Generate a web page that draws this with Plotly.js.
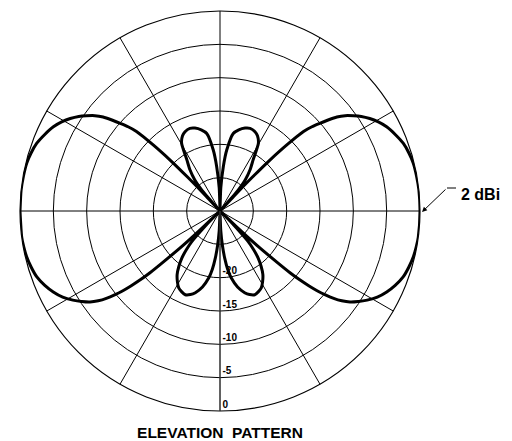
<!DOCTYPE html>
<html>
<head>
<meta charset="utf-8">
<script src="https://cdn.plot.ly/plotly-3.0.1.min.js"></script>
<style>html,body{margin:0;padding:0;background:#fff;}#chart{width:512px;height:441px;}</style>
</head>
<body>
<div id="chart"></div>
<script>
// Elevation angle above horizon (deg) and relative gain (dB), upper hemisphere
var elevUpper = [0, 6, 10, 13.9, 17, 20.3, 23.5, 26.8, 29.5, 31.7, 33.8, 35.5, 37.3, 38.8, 40, 41.2, 42.5, 43.6, 44.7, 45.6, 46.3, 47, 47.5,
                 48.5, 51, 54, 57, 60.5, 63.5, 66.2, 70, 73.2, 77, 80.3, 83.7, 85.7, 88, 90];
var gainUpper = [0, 0, -0.05, -0.13, -0.35, -0.7, -1.3, -2.0, -2.8, -3.6, -4.5, -5.4, -6.4, -7.5, -8.7, -10, -11.3, -12.7, -15.9, -19.3, -23, -27, -30,
                 -26.5, -24, -22.3, -20.9, -18.3, -17.4, -17.0, -16.8, -17.0, -17.5, -18.2, -20.8, -23.3, -26.5, -30];
// Elevation angle below horizon (deg, magnitude) and relative gain (dB), lower hemisphere
var elevLower = [0, 7.5, 10.5, 13.4, 16.5, 19.8, 23, 25.9, 28.7, 31.2, 33.2, 35, 36.4, 37.6, 38.5, 39.3, 40.1, 40.8, 41.4, 41.9, 42.9, 43.6, 44.2,
                 44.8, 45.8, 47.3, 49, 51, 53.5, 56, 59, 61.8, 64.5, 67.5, 70.5, 73.2, 77, 80.4, 82.5, 84.3, 86, 87.7, 90];
var gainLower = [0, 0, -0.08, -0.2, -0.45, -0.8, -1.45, -2.2, -3.1, -4.2, -5.2, -6.2, -7.3, -8.6, -9.8, -11, -12.6, -14.2, -16, -18.3, -22.2, -26, -30,
                 -28.5, -26.5, -23.8, -22.3, -20.9, -19.6, -18.5, -17.6, -16.9, -16.6, -16.4, -16.7, -17.2, -18.3, -19.8, -21.2, -22.9, -24.8, -27, -30];
var radialTicks = [-25, -20, -15, -10, -5, 0];
var radialTickText = ['', '-20', '-15', '-10', '-5', '0'];
var peakLabel = '2 dBi';
var chartTitle = 'ELEVATION&nbsp;&nbsp;PATTERN';

var theta = [], r = [];
for (var i = 0; i < elevUpper.length; i++) { theta.push(elevUpper[i]); r.push(gainUpper[i]); }
for (var i = elevUpper.length - 1; i >= 0; i--) { theta.push(180 - elevUpper[i]); r.push(gainUpper[i]); }
for (var i = 0; i < elevLower.length; i++) { theta.push(180 + elevLower[i]); r.push(gainLower[i]); }
for (var i = elevLower.length - 1; i >= 0; i--) { theta.push(360 - elevLower[i]); r.push(gainLower[i]); }

var trace = {
  type: 'scatterpolar', mode: 'lines', r: r, theta: theta,
  line: {color: '#000', width: 3, shape: 'spline', smoothing: 0.6},
  hoverinfo: 'none', showlegend: false
};

// tick labels sit just above their rings: pad each label with an empty second line
var tickTextShown = radialTickText.map(function (t) { return t === '' ? '' : t + '<br>&nbsp;'; });

var W = 512, H = 441, cx = 220, cy = 211, R = 200;
var layout = {
  width: W, height: H,
  margin: {l: 0, r: 0, t: 0, b: 0},
  paper_bgcolor: '#fff',
  font: {family: 'Liberation Sans, Arial, sans-serif', color: '#000'},
  showlegend: false,
  polar: {
    domain: {x: [(cx - R) / W, (cx + R) / W], y: [(H - cy - R) / H, (H - cy + R) / H]},
    bgcolor: '#fff',
    angularaxis: {
      rotation: 0, direction: 'counterclockwise', dtick: 30,
      showticklabels: false, ticks: '',
      showgrid: true, gridcolor: '#000', gridwidth: 1,
      showline: true, linecolor: '#000', linewidth: 1.2
    },
    radialaxis: {
      range: [-30, 0], angle: -90, tickangle: -90,
      tickvals: radialTicks, ticktext: tickTextShown,
      tickfont: {size: 10, family: 'Liberation Sans, Arial, sans-serif', weight: 'bold', color: '#000'},
      ticks: '', showline: true, linecolor: '#444', linewidth: 1,
      showgrid: true, gridcolor: '#000', gridwidth: 1,
      side: 'counterclockwise'
    }
  },
  title: {
    text: '<b>' + chartTitle + '</b>',
    font: {size: 15.5, family: 'Liberation Sans, Arial, sans-serif', color: '#000'},
    xref: 'paper', x: cx / W, xanchor: 'center',
    yref: 'container', y: 3 / H, yanchor: 'bottom'
  },
  annotations: [
    {xref: 'paper', yref: 'paper', x: 459 / W, y: (H - 194) / H, xanchor: 'left', yanchor: 'middle',
     text: '<b>' + peakLabel + '</b>', showarrow: false, font: {size: 16, color: '#000'}},
    {xref: 'paper', yref: 'paper', x: 422 / W, y: (H - 212) / H, text: '', showarrow: true,
     ax: 447 - 422, ay: 188 - 212, arrowhead: 2, arrowsize: 1, arrowwidth: 1, arrowcolor: '#000'}
  ],
  shapes: [
    {type: 'line', xref: 'paper', yref: 'paper', x0: 447 / W, x1: 456 / W, y0: (H - 188) / H, y1: (H - 188) / H,
     line: {color: '#000', width: 1}}
  ]
};

Plotly.newPlot('chart', [trace], layout, {staticPlot: true, displayModeBar: false});
</script>
</body>
</html>
